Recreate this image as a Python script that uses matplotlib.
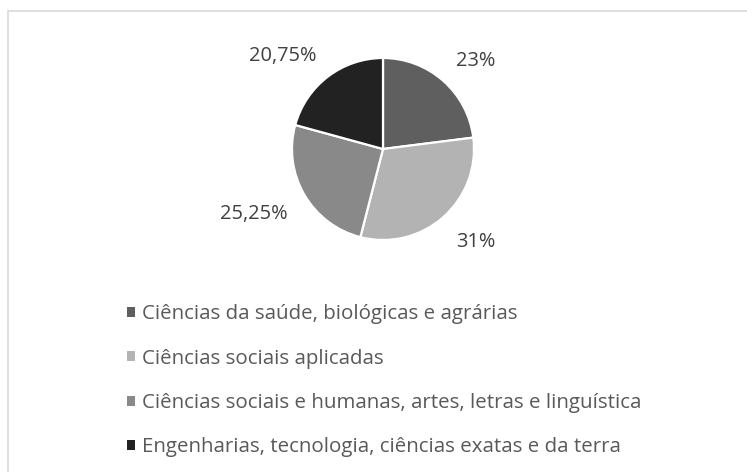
import numpy as np
import matplotlib
matplotlib.use("Agg")
import matplotlib.pyplot as plt
from matplotlib.patches import Rectangle

categories = [
    "Ciências da saúde, biológicas e agrárias",
    "Ciências sociais aplicadas",
    "Ciências sociais e humanas, artes, letras e linguística",
    "Engenharias, tecnologia, ciências exatas e da terra",
]
values = [23, 31, 25.25, 20.75]
value_labels = ["23%", "31%", "25,25%", "20,75%"]
colors = ["#5f5f5f", "#b3b3b3", "#898989", "#222222"]

W, H = 747, 472
fig = plt.figure(figsize=(W / 100, H / 100), dpi=100)
fig.patch.set_facecolor("white")
font = "Open Sans"
px_per_pt = 100 / 72

fig.canvas.draw()
renderer = fig.canvas.get_renderer()


def fit_size(text, target_w, base=14):
    t = fig.text(0, 0, text, fontsize=base, family=font)
    w = t.get_window_extent(renderer).width
    t.remove()
    return base * target_w / w


leg_size = fit_size(categories[2], 500)
lab_size = fit_size(value_labels[2], 68)

# pie axes: centre (383,149), radius 91 px
cx, cy, r = 383, 149, 91
ax = fig.add_axes([(cx - r) / W, (H - cy - r) / H, 2 * r / W, 2 * r / H])
wedges, _ = ax.pie(values, colors=colors, startangle=90, counterclock=False,
                   radius=1.0, wedgeprops=dict(edgecolor="white", linewidth=1.6))
ax.set_xlim(-1, 1)
ax.set_ylim(-1, 1)
ax.set_aspect("equal")
ax.axis("off")

for w, lab in zip(wedges, value_labels):
    mid = np.deg2rad((w.theta1 + w.theta2) / 2)
    ux, uy = np.cos(mid), np.sin(mid)
    d = 1.21
    ha = "left" if ux > 0 else "right"
    va = "baseline" if uy > 0 else "top"
    ax.text(d * ux, d * uy, lab, ha=ha, va=va, fontsize=lab_size,
            color="#404040", family=font, clip_on=False)

fs_px = leg_size * px_per_pt


def make_legend(ls, anchor_y):
    leg = fig.legend(wedges, categories, loc="upper left",
                     bbox_to_anchor=(127 / W, anchor_y / H), bbox_transform=fig.transFigure,
                     frameon=False, borderpad=0, borderaxespad=0,
                     handlelength=8 / fs_px, handleheight=8 / fs_px,
                     handletextpad=7 / fs_px,
                     labelspacing=ls, prop=dict(family=font, size=leg_size))
    for t in leg.get_texts():
        t.set_color("#595959")
    for h in leg.legend_handles:
        h.set_edgecolor("none")
    return leg


def marker_centers(leg):
    fig.canvas.draw()
    return [0.5 * (h.get_window_extent(renderer).y0 + h.get_window_extent(renderer).y1)
            for h in leg.legend_handles]


# target marker centres (pixels from top): 312 and 445
top_target, bot_target = H - 312, H - 445
ls = 1.0
anchor = H - 300
for _ in range(3):
    leg = make_legend(ls, anchor)
    c = marker_centers(leg)
    spacing = (c[0] - c[-1]) / 3
    ls = ls + ((top_target - bot_target) / 3 - spacing) / fs_px
    leg.remove()
    leg = make_legend(ls, anchor)
    c = marker_centers(leg)
    anchor += top_target - c[0]
    leg.remove()
leg = make_legend(ls, anchor)

# chart border (only left and top edges visible)
fig.add_artist(Rectangle((7.5 / W, -0.2), 2.0, (H - 10.5) / H + 0.2,
                         transform=fig.transFigure, fill=False,
                         edgecolor="#d9d9d9", linewidth=1.2))

fig.savefig("out.png", dpi=100, facecolor="white")
